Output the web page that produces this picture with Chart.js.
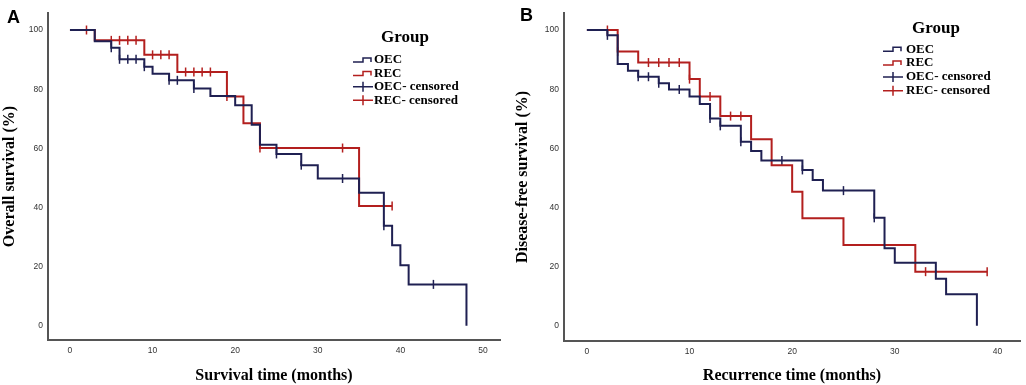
<!DOCTYPE html>
<html>
<head>
<meta charset="utf-8">
<script src="https://cdn.jsdelivr.net/npm/chart.js@4.4.1/dist/chart.umd.min.js"></script>
<style>
  body { margin: 0; background: #fff; }
  #wrap { position: relative; width: 1026px; height: 385px; }
  canvas { position: absolute; top: 0; }
  #chartA { left: 0; }
  #chartB { left: 513px; }
</style>
</head>
<body>
<div id="wrap">
  <canvas id="chartA" width="513" height="385"></canvas>
  <canvas id="chartB" width="513" height="385"></canvas>
</div>
<script>
// legend / group names
const groupNames = ['OEC', 'REC'];
const yTicks = [0, 20, 40, 60, 80, 100];
const xTicksA = [0, 10, 20, 30, 40, 50];
const xTicksB = [0, 10, 20, 30, 40];

// Panel A - overall survival, step points (time in months, survival %)
const osOecTime = [0, 3, 5, 6, 9, 10, 12, 15, 17, 20, 22, 23, 25, 28, 30, 35, 38, 39, 40, 41, 48];
const osOecSurv = [100, 96.2, 94.0, 90.1, 87.6, 85.2, 83.0, 80.2, 77.7, 74.6, 68.0, 61.2, 58.1, 54.3, 49.8, 45.0, 33.8, 27.2, 20.5, 14.0, 0];
const osOecCensor = [5, 6, 7, 8, 9, 12, 13, 15, 25, 28, 33, 38, 44];

const osRecTime = [0, 3, 9, 13, 19, 21, 23, 35, 39];
const osRecSurv = [100, 96.5, 91.6, 85.8, 77.5, 68.5, 60.1, 40.5, 40.5];
const osRecCensor = [2, 5, 6, 7, 8, 10, 11, 12, 14, 15, 16, 17, 19, 23, 33, 39];

// Panel B - disease-free survival
const dfsOecTime = [0, 2, 3, 4, 5, 7, 8, 10, 11, 12, 13, 15, 16, 17, 21, 22, 23, 28, 29, 30, 34, 35, 38];
const dfsOecSurv = [100, 98.2, 88.5, 86.2, 84.2, 82.0, 79.9, 77.5, 75.0, 70.1, 67.6, 62.2, 59.1, 55.9, 52.7, 49.3, 45.7, 36.5, 26.2, 21.3, 15.9, 10.7, 0];
const dfsOecCensor = [2, 5, 6, 7, 9, 12, 13, 15, 19, 21, 25, 28];

const dfsRecTime = [0, 3, 5, 10, 11, 13, 16, 18, 20, 21, 25, 32, 39];
const dfsRecSurv = [100, 92.7, 89.0, 83.4, 77.5, 70.9, 63.1, 54.3, 45.3, 36.4, 27.3, 18.3, 18.3];
const dfsRecCensor = [2, 3, 6, 7, 8, 9, 10, 12, 14, 15, 33, 39];

const oecColor = '#1f2052';
const recColor = '#b31f1e';

const serif = '"Liberation Serif", "Times New Roman", serif';
const sans = '"Liberation Sans", Arial, sans-serif';

function stepPoints(times, surv) {
    return times.map((t, i) => ({ x: t, y: surv[i] }));
}

// censor marks sit on the curve at their time
function censorPoints(censor, times, surv) {
    return censor.map(c => {
        let v = surv[0];
        for (let i = 0; i < times.length; i++) {
            if (times[i] <= c) v = surv[i];
        }
        return { x: c, y: v };
    });
}

const kmLegend = {
    id: 'kmLegend',
    afterDraw(chart, args, o) {
        const ctx = chart.ctx;
        ctx.save();
        ctx.fillStyle = '#000';
        ctx.font = 'bold 18px ' + sans;
        ctx.textAlign = 'left';
        ctx.textBaseline = 'alphabetic';
        ctx.fillText(o.letter, o.letterX, o.letterY);

        ctx.font = 'bold 17px ' + serif;
        ctx.textAlign = 'center';
        ctx.textBaseline = 'middle';
        ctx.fillText('Group', o.groupX, o.groupY);

        const items = [
            { label: groupNames[0], color: oecColor, censored: false },
            { label: groupNames[1], color: recColor, censored: false },
            { label: groupNames[0] + '- censored', color: oecColor, censored: true },
            { label: groupNames[1] + '- censored', color: recColor, censored: true }
        ];
        ctx.font = 'bold 13px ' + serif;
        ctx.textAlign = 'left';
        items.forEach((it, i) => {
            const y = o.rowY + i * o.rowGap;
            const x0 = o.iconX;
            ctx.strokeStyle = it.color;
            ctx.lineWidth = 1.5;
            ctx.beginPath();
            if (it.censored) {
                ctx.moveTo(x0, y);
                ctx.lineTo(x0 + 20, y);
                ctx.moveTo(x0 + 10, y - 5);
                ctx.lineTo(x0 + 10, y + 5);
            } else {
                ctx.moveTo(x0, y + 2);
                ctx.lineTo(x0 + 10, y + 2);
                ctx.lineTo(x0 + 10, y - 2);
                ctx.lineTo(x0 + 18, y - 2);
                ctx.lineTo(x0 + 18, y + 2);
            }
            ctx.stroke();
            ctx.fillStyle = '#000';
            ctx.fillText(it.label, o.textX, y);
        });
        ctx.restore();
    }
};

function makeChart(id, cfg) {
    const lineSet = (label, times, surv, color) => ({
        label: label,
        data: stepPoints(times, surv),
        borderColor: color,
        borderWidth: 2,
        stepped: 'before',
        pointRadius: 0,
        fill: false
    });
    const censorSet = (label, censor, times, surv, color) => ({
        label: label,
        data: censorPoints(censor, times, surv),
        showLine: false,
        borderColor: color,
        backgroundColor: color,
        pointStyle: 'line',
        rotation: 90,
        pointRadius: 4.5,
        pointBorderWidth: 1.5
    });

    return new Chart(document.getElementById(id), {
        type: 'line',
        data: {
            datasets: [
                lineSet('OEC', cfg.oecTime, cfg.oecSurv, oecColor),
                lineSet('REC', cfg.recTime, cfg.recSurv, recColor),
                censorSet('OEC- censored', cfg.oecCensor, cfg.oecTime, cfg.oecSurv, oecColor),
                censorSet('REC- censored', cfg.recCensor, cfg.recTime, cfg.recSurv, recColor)
            ]
        },
        options: {
            responsive: false,
            animation: false,
            layout: { padding: { left: 0, top: 13, right: cfg.padRight, bottom: 0 } },
            plugins: {
                legend: { display: false },
                tooltip: { enabled: false },
                kmLegend: cfg.legend
            },
            scales: {
                x: {
                    type: 'linear',
                    min: cfg.xMin,
                    max: cfg.xMax,
                    afterBuildTicks: s => { s.ticks = cfg.xTicks.map(v => ({ value: v })); },
                    afterFit: s => { s.height = cfg.xHeight; },
                    ticks: { font: { family: sans, size: 8.5 }, color: '#333', padding: 6 },
                    grid: { drawOnChartArea: false, drawTicks: false },
                    border: { color: '#555', width: 2 },
                    title: {
                        display: true,
                        text: cfg.xTitle,
                        font: { family: serif, size: 16, weight: 'bold' },
                        color: '#000',
                        padding: { top: 0, bottom: 0 }
                    }
                },
                y: {
                    min: cfg.yMin,
                    max: 105.75,
                    afterBuildTicks: s => { s.ticks = yTicks.map(v => ({ value: v })); },
                    afterFit: s => { s.width = cfg.yWidth; },
                    ticks: { font: { family: sans, size: 8.5 }, color: '#333', padding: 5 },
                    grid: { drawOnChartArea: false, drawTicks: false },
                    border: { color: '#555', width: 2 },
                    title: {
                        display: true,
                        text: cfg.yTitle,
                        font: { family: serif, size: 16, weight: 'bold' },
                        color: '#000',
                        padding: { top: 0, bottom: 0 }
                    }
                }
            }
        },
        plugins: [kmLegend]
    });
}

makeChart('chartA', {
    oecTime: osOecTime, oecSurv: osOecSurv, oecCensor: osOecCensor,
    recTime: osRecTime, recSurv: osRecSurv, recCensor: osRecCensor,
    xMin: -2.66, xMax: 52.06, xTicks: xTicksA, yMin: -4.8,
    xHeight: 45, yWidth: 48, padRight: 13,
    xTitle: 'Survival time (months)',
    yTitle: 'Overall survival (%)',
    legend: { letter: 'A', letterX: 7, letterY: 23, groupX: 405, groupY: 38,
              rowY: 60, rowGap: 13.4, iconX: 353, textX: 374 }
});

makeChart('chartB', {
    oecTime: dfsOecTime, oecSurv: dfsOecSurv, oecCensor: dfsOecCensor,
    recTime: dfsRecTime, recSurv: dfsRecSurv, recCensor: dfsRecCensor,
    xMin: -2.23, xMax: 42.2, xTicks: xTicksB, yMin: -5.14,
    xHeight: 44, yWidth: 51, padRight: 3,
    xTitle: 'Recurrence time (months)',
    yTitle: 'Disease-free survival (%)',
    legend: { letter: 'B', letterX: 7, letterY: 21, groupX: 423, groupY: 29,
              rowY: 49.3, rowGap: 13.8, iconX: 370, textX: 393 }
});
</script>
</body>
</html>
